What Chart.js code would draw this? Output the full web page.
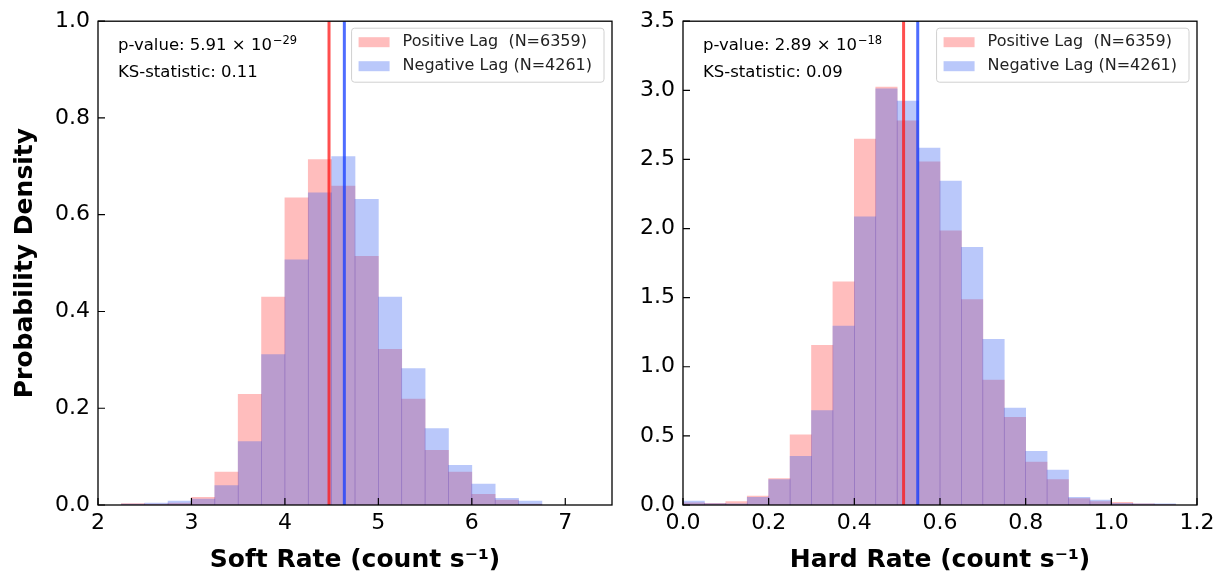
<!DOCTYPE html>
<html>
<head>
<meta charset="utf-8">
<script src="https://cdn.jsdelivr.net/npm/chart.js@4.4.1/dist/chart.umd.min.js"></script>
<style>
    body { margin: 0; background: #fff; width: 1225px; height: 582px; overflow: hidden; position: relative; }
    #softWrap { position: absolute; left: 0; top: 0; width: 620px; height: 582px; }
    #hardWrap { position: absolute; left: 620px; top: 0; width: 605px; height: 582px; }
</style>
</head>
<body>
<div id="softWrap"><canvas id="softChart" width="620" height="582"></canvas></div>
<div id="hardWrap"><canvas id="hardChart" width="605" height="582"></canvas></div>
<script>
// Soft rate histogram (bin centres, bin width 0.25)
const softBins = [2.375, 2.625, 2.875, 3.125, 3.375, 3.625, 3.875, 4.125, 4.375,
                  4.625, 4.875, 5.125, 5.375, 5.625, 5.875, 6.125, 6.375, 6.625];
const softPositive = [0.003, 0.002, 0.004, 0.016, 0.068, 0.229, 0.430, 0.635, 0.714,
                      0.659, 0.514, 0.322, 0.219, 0.113, 0.068, 0.022, 0.010, 0.002];
const softNegative = [0.002, 0.004, 0.008, 0.012, 0.040, 0.131, 0.311, 0.507, 0.645,
                      0.720, 0.632, 0.430, 0.282, 0.158, 0.082, 0.043, 0.014, 0.008];
const softMedians = [4.472, 4.636];   // positive, negative
const softTicksX = [2, 3, 4, 5, 6, 7];
const softTicksY = [0, 0.2, 0.4, 0.6, 0.8, 1.0];

// Hard rate histogram (bin centres, bin width 0.05)
const hardBins = [0.025, 0.075, 0.125, 0.175, 0.225, 0.275, 0.325, 0.375, 0.425, 0.475, 0.525, 0.575,
                  0.625, 0.675, 0.725, 0.775, 0.825, 0.875, 0.925, 0.975, 1.025, 1.075, 1.125];
const hardPositive = [0.015, 0.012, 0.024, 0.065, 0.192, 0.508, 1.155, 1.615, 2.647, 3.024, 2.779, 2.482,
                      1.984, 1.486, 0.903, 0.635, 0.311, 0.184, 0.046, 0.024, 0.019, 0.009, 0.003];
const hardNegative = [0.029, 0.010, 0.008, 0.055, 0.184, 0.352, 0.683, 1.294, 2.084, 3.010, 2.923, 2.582,
                      2.343, 1.864, 1.198, 0.702, 0.388, 0.252, 0.055, 0.036, 0.012, 0.009, 0.008];
const hardMedians = [0.515, 0.548];
const hardTicksX = [0, 0.2, 0.4, 0.6, 0.8, 1.0, 1.2];
const hardTicksY = [0, 0.5, 1.0, 1.5, 2.0, 2.5, 3.0, 3.5];

const posLabel = 'Positive Lag  (N=6359)';
const negLabel = 'Negative Lag (N=4261)';
const softStats = { p: '5.91', exp: '\u221229', ks: '0.11' };
const hardStats = { p: '2.89', exp: '\u221218', ks: '0.09' };

const FONT = "'DejaVu Sans', sans-serif";
const posColor = 'rgba(255, 0, 0, 0.26)';
const negColor = 'rgba(40, 84, 240, 0.32)';
const posLine = 'rgba(255, 20, 20, 0.75)';
const negLine = 'rgba(20, 60, 255, 0.75)';

// lignes, cadre, ticks internes, texte et légende
const decorPlugin = {
    id: 'decor',
    afterDatasetsDraw(chart, args, opts) {
        const ctx = chart.ctx;
        const area = chart.chartArea;
        const xs = chart.scales.x, ys = chart.scales.y;
        ctx.save();

        // vertical median lines
        [posLine, negLine].forEach((col, i) => {
            const px = xs.getPixelForValue(opts.medians[i]);
            ctx.strokeStyle = col;
            ctx.lineWidth = 3;
            ctx.beginPath();
            ctx.moveTo(px, area.top);
            ctx.lineTo(px, area.bottom);
            ctx.stroke();
        });

        // frame
        ctx.strokeStyle = '#000';
        ctx.lineWidth = 1.3;
        ctx.strokeRect(area.left, area.top, area.right - area.left, area.bottom - area.top);

        // inward ticks
        ctx.lineWidth = 1.2;
        ctx.beginPath();
        xs.ticks.forEach(t => {
            const px = xs.getPixelForValue(t.value);
            ctx.moveTo(px, area.bottom);
            ctx.lineTo(px, area.bottom - 7);
        });
        ys.ticks.forEach(t => {
            const py = ys.getPixelForValue(t.value);
            ctx.moveTo(area.left, py);
            ctx.lineTo(area.left + 7, py);
        });
        ctx.stroke();

        // stats text
        ctx.fillStyle = '#000';
        ctx.textBaseline = 'middle';
        ctx.textAlign = 'left';
        ctx.font = '16.5px ' + FONT;
        const tx = area.left + 20;
        const main = 'p-value: ' + opts.stats.p + ' \u00d7 10';
        ctx.fillText(main, tx, area.top + 25);
        const w = ctx.measureText(main).width;
        ctx.font = '11.5px ' + FONT;
        ctx.fillText(opts.stats.exp, tx + w + 1, area.top + 20);
        ctx.font = '16.5px ' + FONT;
        ctx.fillText('KS-statistic: ' + opts.stats.ks, tx, area.top + 52);

        // legend
        ctx.font = '16px ' + FONT;
        const ds = chart.data.datasets;
        const textW = Math.max(...ds.map(d => ctx.measureText(d.label).width));
        const boxW = 7 + 31 + 13 + textW + 12;
        const boxH = 54;
        const bx = area.right - 8 - boxW, by = area.top + 7;
        ctx.fillStyle = 'rgba(255,255,255,0.8)';
        ctx.strokeStyle = '#d0d0d0';
        ctx.lineWidth = 1;
        ctx.beginPath();
        ctx.roundRect(bx, by, boxW, boxH, 3);
        ctx.fill();
        ctx.stroke();
        ds.forEach((d, i) => {
            const cy = by + 14 + i * 24;
            ctx.fillStyle = d.backgroundColor;
            ctx.fillRect(bx + 7, cy - 5, 31, 10);
            ctx.fillStyle = '#222';
            ctx.fillText(d.label, bx + 51, cy);
        });
        ctx.restore();
    }
};

function makeChart(id, bins, pos, neg, cfg) {
    const ctx = document.getElementById(id).getContext('2d');
    return new Chart(ctx, {
        type: 'bar',
        data: {
            datasets: [{
                label: posLabel,
                data: bins.map((x, i) => ({ x: x, y: pos[i] })),
                backgroundColor: posColor,
                borderWidth: 0,
                grouped: false,
                barPercentage: 1,
                categoryPercentage: 1,
                order: 1
            }, {
                label: negLabel,
                data: bins.map((x, i) => ({ x: x, y: neg[i] })),
                backgroundColor: negColor,
                borderWidth: 0,
                grouped: false,
                barPercentage: 1,
                categoryPercentage: 1,
                order: 0
            }]
        },
        options: {
            responsive: false,
            animation: false,
            layout: { padding: { left: 0, top: 18, right: cfg.padRight, bottom: 0 } },
            plugins: {
                legend: { display: false },
                tooltip: { enabled: false },
                decor: { medians: cfg.medians, stats: cfg.stats }
            },
            scales: {
                x: {
                    type: 'linear',
                    min: cfg.xMin,
                    max: cfg.xMax,
                    offset: false,
                    afterBuildTicks: s => { s.ticks = cfg.ticksX.map(v => ({ value: v })); },
                    afterFit: s => { s.height = 77; },
                    grid: { display: false, drawTicks: false },
                    border: { display: false },
                    ticks: {
                        padding: 5,
                        autoSkip: false,
                        maxRotation: 0,
                        color: '#000',
                        font: { family: FONT, size: 22 },
                        callback: v => v.toFixed(cfg.xDigits)
                    },
                    title: {
                        display: true,
                        text: cfg.xTitle,
                        color: '#000',
                        font: { family: FONT, size: 25, weight: 'bold' },
                        padding: { top: 0, bottom: 7 }
                    }
                },
                y: {
                    min: 0,
                    max: cfg.yMax,
                    afterBuildTicks: s => { s.ticks = cfg.ticksY.map(v => ({ value: v })); },
                    afterFit: s => { s.width = cfg.yWidth; },
                    grid: { display: false, drawTicks: false },
                    border: { display: false },
                    ticks: {
                        padding: 8,
                        autoSkip: false,
                        color: '#000',
                        font: { family: FONT, size: 22 },
                        callback: v => v.toFixed(1)
                    },
                    title: {
                        display: cfg.yTitle !== '',
                        text: cfg.yTitle,
                        color: '#000',
                        font: { family: FONT, size: 25, weight: 'bold' },
                        padding: { top: 10, bottom: 0 }
                    }
                }
            }
        },
        plugins: [decorPlugin]
    });
}

makeChart('softChart', softBins, softPositive, softNegative, {
    xMin: 2, xMax: 7.5, yMax: 1.0, ticksX: softTicksX, ticksY: softTicksY, xDigits: 0,
    xTitle: 'Soft Rate (count s\u207b\u00b9)', yTitle: 'Probability Density',
    yWidth: 98, padRight: 8, medians: softMedians, stats: softStats
});

makeChart('hardChart', hardBins, hardPositive, hardNegative, {
    xMin: 0, xMax: 1.2, yMax: 3.5, ticksX: hardTicksX, ticksY: hardTicksY, xDigits: 1,
    xTitle: 'Hard Rate (count s\u207b\u00b9)', yTitle: '',
    yWidth: 63, padRight: 28, medians: hardMedians, stats: hardStats
});
</script>
</body>
</html>
